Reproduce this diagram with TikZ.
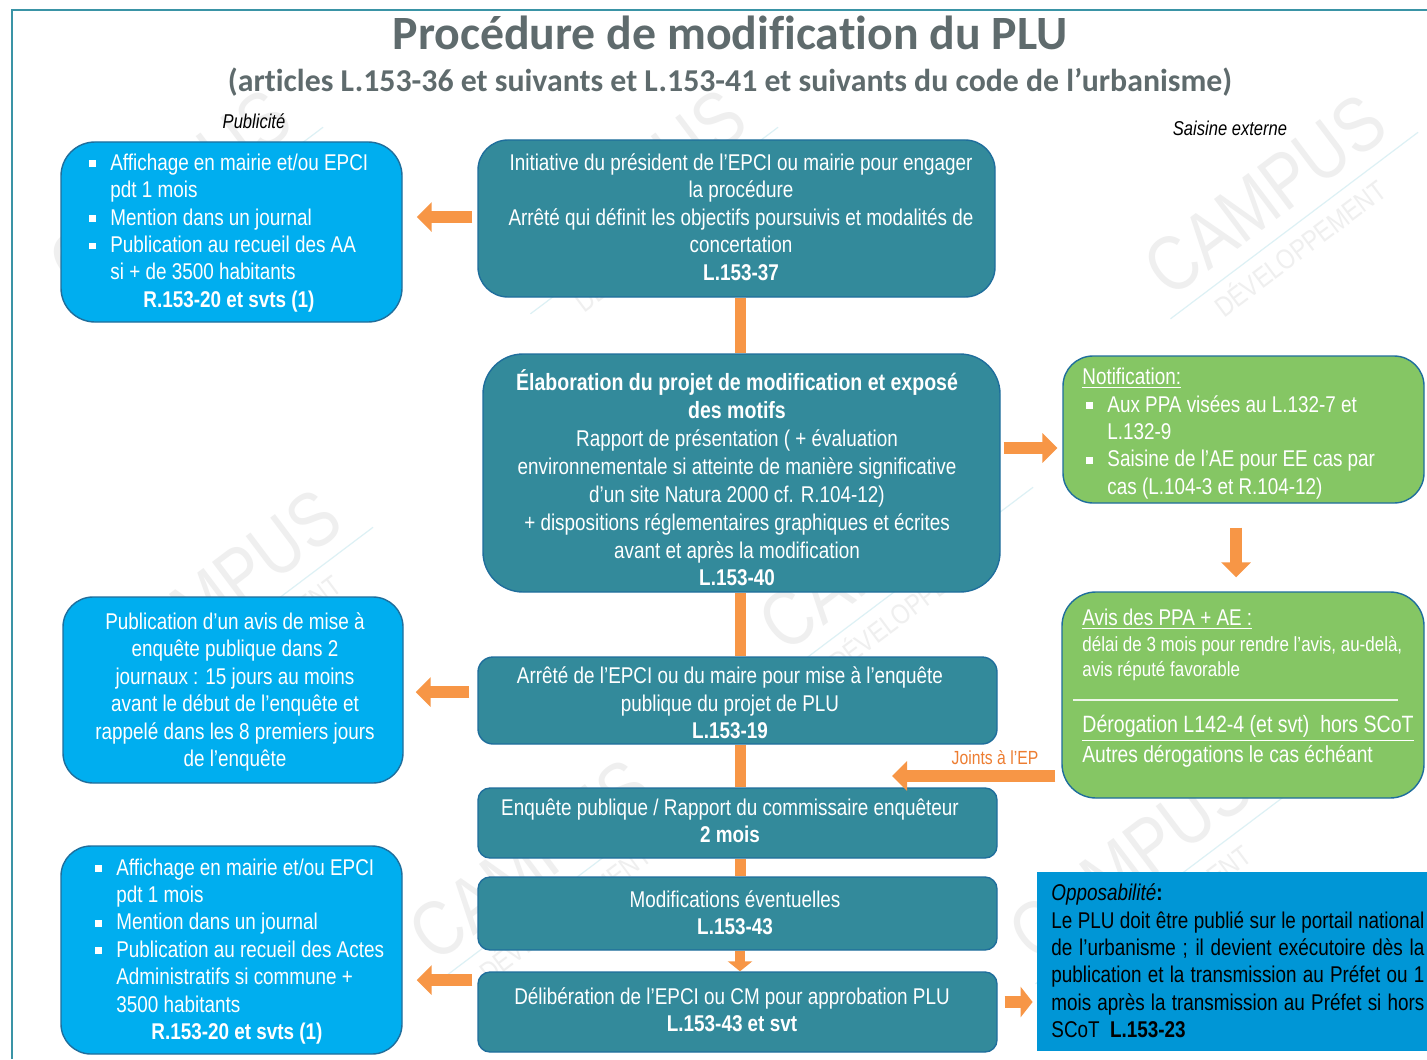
\documentclass[tikz,border=0pt]{standalone}
\usepackage{fontspec}
\setmainfont{Liberation Sans}[FakeStretch=0.828]
\newfontfamily\titlefont{Carlito}[Ligatures=NoCommon]
\usetikzlibrary{arrows.meta}
\definecolor{teal1}{HTML}{338A9B}
\definecolor{blue1}{HTML}{00AEEF}
\definecolor{green1}{HTML}{85C664}
\definecolor{blue2}{HTML}{0096D6}
\definecolor{edge1}{HTML}{1F6E9C}
\definecolor{orange1}{HTML}{F79646}
\definecolor{orange2}{HTML}{ED7D31}
\definecolor{grey1}{HTML}{5F6B6D}
\definecolor{frame1}{HTML}{3A94A6}
\definecolor{wm1}{HTML}{EFEFEF}
\definecolor{wm2}{HTML}{DDF1F5}
\newcommand\bl{\makebox[12.5pt][l]{\hspace*{2pt}\rule[1.6pt]{3.4pt}{3.4pt}}}
\newcommand\ct{\hspace*{12.5pt}}
\newcommand\wmark[3]{%
  \begin{scope}[shift={(#2,#3)},rotate=37,transform shape]
  \node[wmbig] (#1a) at (0,0) {CAMPUS};
  \node[wmsmall] (#1b) at (-4,62) {DÉVELOPPEMENT};
  \draw[wm2,line width=0.6pt] (-150,42) -- (160,42);
  \end{scope}
}
\tikzset{
  box/.style={draw=edge1,line width=0.7pt,inner sep=0pt},
  tealbox/.style={box,fill=teal1},
  bluebox/.style={box,fill=blue1},
  greenbox/.style={box,fill=green1},
  txt/.style={text=white,inner sep=0pt,font=\fontsize{11.4}{13.7}\selectfont},
  ctxt/.style={txt,align=center,anchor=center},
  ltxt/.style={txt,align=left,anchor=west},
  bar/.style={draw=orange1,line width=5.5pt},
  fat/.style={draw=orange1,line width=6.2pt,-{Triangle[length=7.5pt,width=14.5pt,fill=orange1]}},
  wmbig/.style={text=wm1,inner sep=0pt,font=\fontsize{39}{39}\selectfont},
  wmsmall/.style={text=wm1,inner sep=0pt,font=\fontsize{14}{14}\selectfont},
  cap1/.style={inner sep=0pt,font=\fontsize{10}{12}\selectfont\itshape},
}
\begin{document}
\begin{tikzpicture}[x=0.5pt,y=-0.5pt]
\useasboundingbox (0,0) rectangle (1427,1059);
\fill[white] (0,0) rectangle (1427,1059);
% watermark
\wmark{wA}{170}{190}
\wmark{wB}{625}{190}
\wmark{wC}{1265}{195}
\wmark{wD}{220}{590}
\wmark{wE}{880}{550}
\wmark{wF}{530}{860}
\wmark{wG}{1130}{860}
% frame
\draw[frame1,line width=0.8pt] (1427,10) -- (12,10) -- (12,1059);
% titles
\node[inner sep=0pt,text=grey1,font=\titlefont\bfseries\fontsize{23.9}{26}\selectfont] (title) at (730,33) {Procédure de modification du PLU};
\node[inner sep=0pt,text=grey1,font=\titlefont\bfseries\fontsize{15.9}{18}\selectfont] (subtitle) at (730,82) {(articles L.153-36 et suivants et L.153-41 et suivants du code de l’urbanisme)};
\node[cap1] (pub) at (254,121) {Publicité};
\node[cap1] (sai) at (1230,128) {Saisine externe};
% boxes
\node[bluebox,rounded corners=17pt,minimum width=170.5pt,minimum height=90pt] (p1) at (231.5,232) {};
\node[tealbox,rounded corners=15pt,minimum width=258.5pt,minimum height=78.5pt] (e1) at (736.5,218.5) {};
\node[tealbox,rounded corners=20pt,minimum width=258.5pt,minimum height=119pt] (e2) at (741.5,473) {};
\node[greenbox,rounded corners=15pt,minimum width=180.5pt,minimum height=73.5pt] (n1) at (1243.5,429.5) {};
\node[greenbox,rounded corners=17pt,minimum width=181pt,minimum height=103pt] (a1) at (1243,695) {};
\node[bluebox,rounded corners=15pt,minimum width=170pt,minimum height=93pt] (p2) at (233,690) {};
\node[tealbox,rounded corners=7.5pt,minimum width=259.5pt,minimum height=43.5pt] (e3) at (737.5,700.5) {};
\node[tealbox,rounded corners=6pt,minimum width=259.5pt,minimum height=35pt] (e4) at (737.5,823) {};
\node[tealbox,rounded corners=6pt,minimum width=259.5pt,minimum height=36.5pt] (e5) at (737.5,913.5) {};
\node[tealbox,rounded corners=6pt,minimum width=259.5pt,minimum height=40pt] (e6) at (737.5,1012) {};
\node[bluebox,rounded corners=15pt,minimum width=170.5pt,minimum height=104pt] (p3) at (231.5,950) {};
\node[inner sep=0pt,fill=blue2,minimum width=195pt,minimum height=89.5pt] (op) at (1232,961.5) {};
\draw[white!85!green1,line width=0.7pt] (1073,700) -- (1398,700);
% connectors
\coordinate (cx) at (740,0);
\coordinate (jt) at (892,776);
\draw[bar] (e1.south -| cx) -- (e2.north -| cx);
\draw[bar] (e2.south -| cx) -- (e3.north -| cx);
\draw[bar] (e3.south -| cx) -- (e4.north -| cx);
\draw[bar] (e4.south -| cx) -- (e5.north -| cx);
\draw[fat,line width=5pt,-{Triangle[length=5pt,width=12pt,fill=orange1]}] (e5.south -| cx) -- (e6.north -| cx);
\draw[fat,shorten <=2.5pt,shorten >=7pt] (e1.west) ++(0,-1.5) coordinate (s1) (s1) -- (s1 -| p1.east);
\draw[fat,shorten <=1.5pt,shorten >=2.5pt] (e2.east |- 0,448) -- (n1.west |- 0,448);
\draw[fat,shorten <=12pt,shorten >=7pt] (n1.south -| 1236,0) -- (a1.north -| 1236,0);
\draw[fat,shorten <=4pt,shorten >=6pt] (e3.west |- 0,692) -- (p2.east |- 0,692);
\draw[fat,shorten <=3pt] (a1.west |- jt) -- (jt);
\draw[fat,shorten <=2.5pt,shorten >=7pt] (e6.west |- 0,980) -- (p3.east |- 0,980);
\draw[fat,shorten <=3.5pt,shorten >=2pt,-{Triangle[length=6pt,width=15pt,fill=orange1]}] (e6.east |- 0,1002) -- (op.west |- 0,1002);
\node[inner sep=0pt,text=orange2,font=\fontsize{9.5}{11}\selectfont] (jl) at (995,758) {Joints à l’EP};
% text
\node[ltxt] (tp1) at (85,217) {\bl Affichage en mairie et/ou EPCI\\\ct pdt 1 mois\\\bl Mention dans un journal\\\bl Publication au recueil des AA\\\ct si + de 3500 habitants};
\node[ctxt] (tp1b) at (229,302) {\textbf{R.153-20 et svts (1)}};
\node[ctxt] (te1) at (741,217) {Initiative du président de l’EPCI ou mairie pour engager\\la procédure\\Arrêté qui définit les objectifs poursuivis et modalités de\\concertation\\\textbf{L.153-37}};
\node[ctxt,font=\fontsize{11.4}{13.95}\selectfont] (te2) at (737,478) {{\fontsize{11.8}{13.95}\selectfont\bfseries Élaboration du projet de modification et exposé}\\{\fontsize{11.8}{13.95}\selectfont\bfseries des motifs}\\Rapport de présentation ( + évaluation\\environnementale si atteinte de manière significative\\d’un site Natura 2000 cf. R.104-12)\\+ dispositions réglementaires graphiques et écrites\\avant et après la modification\\\textbf{L.153-40}};
\node[ltxt] (tn1) at (1082,433.5) {\underline{Notification:}\\\bl Aux PPA visées au L.132-7 et\\\ct L.132-9\\\bl Saisine de l’AE pour EE cas par\\\ct cas (L.104-3 et R.104-12)};
\node[txt,anchor=west] (ta1) at (1082,619) {\underline{Avis des PPA + AE :}};
\node[txt,anchor=west,align=left,font=\fontsize{10.25}{12.4}\selectfont] (ta2) at (1082,658.5) {délai de 3 mois pour rendre l’avis, au-delà,\\avis réputé favorable};
\node[txt,anchor=west,font=\fontsize{11.8}{13.7}\selectfont] (ta3) at (1082,728) {\underline{Dérogation L142-4 (et svt)~ hors SCoT}};
\node[txt,anchor=west,font=\fontsize{11.6}{13.7}\selectfont] (ta4) at (1082,756) {Autres dérogations le cas échéant};
\node[ctxt] (tp2) at (235,692) {Publication d’un avis de mise à\\enquête publique dans 2\\journaux : 15 jours au moins\\avant le début de l’enquête et\\rappelé dans les 8 premiers jours\\de l’enquête};
\node[ctxt] (te3) at (730,703) {Arrêté de l’EPCI ou du maire pour mise à l’enquête\\publique du projet de PLU\\\textbf{L.153-19}};
\node[ctxt] (te4) at (730,821) {Enquête publique / Rapport du commissaire enquêteur\\\textbf{2 mois}};
\node[ctxt] (te5) at (735,913) {Modifications éventuelles\\\textbf{L.153-43}};
\node[ctxt] (te6) at (732,1010) {Délibération de l’EPCI ou CM pour approbation PLU\\\textbf{L.153-43 et svt}};
\node[ltxt] (tp3) at (91,935.5) {\bl Affichage en mairie et/ou EPCI\\\ct pdt 1 mois\\\bl Mention dans un journal\\\bl Publication au recueil des Actes\\\ct Administratifs si commune +\\\ct 3500 habitants};
\node[ctxt] (tp3b) at (237,1034) {\textbf{R.153-20 et svts (1)}};
\node[txt,text=black,anchor=west,align=left] (top) at (1051,961) {\textit{Opposabilité}\textbf{:}\\
\makebox[186.5pt][s]{Le PLU doit être publié sur le portail national}\\
\makebox[186.5pt][s]{de l’urbanisme ; il devient exécutoire dès la}\\
\makebox[186.5pt][s]{publication et la transmission au Préfet ou 1}\\
\makebox[186.5pt][s]{mois après la transmission au Préfet si hors}\\
SCoT~ \textbf{L.153-23}};
\end{tikzpicture}
\end{document}
